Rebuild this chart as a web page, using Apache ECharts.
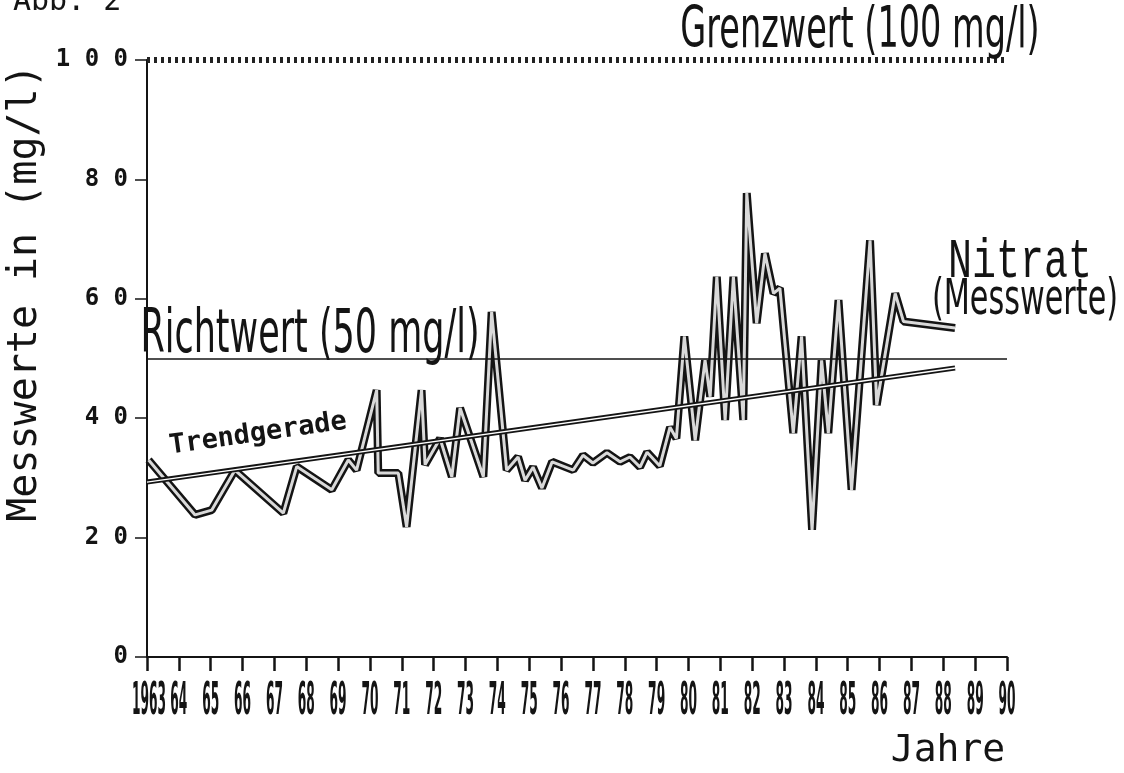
<!DOCTYPE html>
<html>
<head>
<meta charset="utf-8">
<script src="https://cdn.jsdelivr.net/npm/echarts@6/dist/echarts.min.js"></script>
<style>
html,body{margin:0;padding:0;background:#fff;}
#chart{width:1124px;height:773px;}
</style>
</head>
<body>
<div id="chart"></div>
<script>
// ---- data ----
const measureYears = [1963.05,1964.51,1965.03,1965.76,1967.28,1967.70,1968.80,1969.32,1969.58,1970.21,1970.26,1970.89,1971.15,1971.62,1971.73,1972.20,1972.57,1972.83,1973.56,1973.82,1974.29,1974.65,1974.87,1975.12,1975.40,1975.72,1976.38,1976.69,1977.00,1977.44,1977.85,1978.16,1978.48,1978.70,1979.10,1979.42,1979.62,1979.87,1980.21,1980.52,1980.68,1980.89,1981.15,1981.41,1981.72,1981.83,1982.14,1982.40,1982.67,1982.87,1983.29,1983.55,1983.88,1984.18,1984.39,1984.71,1985.12,1985.70,1985.91,1986.49,1986.75,1988.37];
const nitratValues = [33.0,23.8,24.6,31.3,24.1,31.9,28.0,33.0,31.3,44.7,30.8,30.8,21.8,44.7,32.2,36.6,30.2,41.7,30.2,57.8,31.3,33.5,29.6,31.8,28.3,32.7,31.3,33.8,32.5,34.2,32.7,33.5,31.8,34.3,32.0,38.5,36.6,53.7,36.3,49.7,43.6,63.7,39.7,63.7,39.7,77.7,55.9,67.6,60.9,61.8,37.5,53.7,21.3,49.7,37.5,59.8,28.0,69.8,42.2,60.9,56.2,55.1];
const trendYears = [1963, 1988.37];
const trendValues = [29.3, 48.4];
const richtwert = 50;
const grenzwert = 100;
const yearMin = 1963, yearMax = 1990;
const yearTickLabels = ['1963','64','65','66','67','68','69','70','71','72','73','74','75','76','77','78','79','80','81','82','83','84','85','86','87','88','89','90'];

const nitratData = measureYears.map((y, i) => [y, nitratValues[i]]);
const trendData = trendYears.map((y, i) => [y, trendValues[i]]);

const chart = echarts.init(document.getElementById('chart'), null, {renderer: 'canvas'});
const ink = '#141414';
const mono = '"DejaVu Sans Mono", "Liberation Mono", monospace';
const narrow = '"DejaVu Sans Condensed", "DejaVu Sans", sans-serif';

function txt(text, x, y, font, size, opts) {
  opts = opts || {};
  return {
    type: 'text', x: x, y: y, z: 50,
    rotation: opts.rotation || 0,
    scaleX: opts.scaleX || 1, scaleY: opts.scaleY || 1,
    style: {
      text: text, x: 0, y: 0,
      fill: ink, font: (opts.weight || 'normal') + ' ' + size + 'px ' + font,
      align: opts.align || 'center', verticalAlign: 'middle'
    }
  };
}

chart.setOption({
  animation: false,
  backgroundColor: '#fff',
  grid: {left: 147, right: 117, top: 60, bottom: 116, containLabel: false, outerBoundsMode: 'none'},
  xAxis: {
    type: 'value', min: yearMin, max: yearMax, interval: 1,
    axisLine: {show: true, onZero: false, lineStyle: {color: ink, width: 2}},
    axisTick: {show: true, inside: false, length: 14, lineStyle: {color: ink, width: 2.5}},
    splitLine: {show: false},
    axisLabel: {show: false}
  },
  yAxis: {
    type: 'value', min: 0, max: 100, interval: 20,
    axisLine: {show: true, lineStyle: {color: ink, width: 2}},
    axisTick: {show: true, inside: false, length: 12, lineStyle: {color: ink, width: 1.5}},
    splitLine: {show: false},
    axisLabel: {
      show: true, margin: 19, color: ink,
      fontFamily: mono, fontSize: 24, fontWeight: 'bold',
      formatter: v => String(v).split('').join(' ')
    }
  },
  series: [
    {
      type: 'line', name: 'Nitrat', data: nitratData, symbol: 'none', z: 3,
      lineStyle: {color: ink, width: 8, join: 'bevel'},
      markLine: {
        silent: true, symbol: 'none', label: {show: false},
        data: [
          {yAxis: richtwert, lineStyle: {color: ink, width: 1.6, type: 'solid'}},
          {yAxis: grenzwert, lineStyle: {color: '#222', width: 6, type: [3, 4]}}
        ]
      }
    },
    {
      type: 'line', name: 'Nitrat-inner', data: nitratData, symbol: 'none', z: 4,
      lineStyle: {color: '#d9d9d9', width: 3, join: 'bevel'}
    },
    {
      type: 'line', name: 'Trend', data: trendData, symbol: 'none', z: 5,
      lineStyle: {color: ink, width: 5}
    },
    {
      type: 'line', name: 'Trend-inner', data: trendData, symbol: 'none', z: 6,
      lineStyle: {color: '#fff', width: 1.4}
    }
  ]
});

// Year labels placed through the x axis scale (tall, condensed like the original)
const axisY = chart.convertToPixel({yAxisIndex: 0}, 0);
const yearGraphics = yearTickLabels.map((lab, i) => {
  const px = chart.convertToPixel({xAxisIndex: 0}, yearMin + i);
  return txt(lab, px + (i === 0 ? 2 : 0), axisY + 45, narrow, 34, {weight: 'bold', scaleX: 0.4, scaleY: 1.33});
});

chart.setOption({
  graphic: yearGraphics.concat([
    txt('Abb. 2', 13, 2, mono, 30, {align: 'left'}),
    txt('Grenzwert (100 mg/l)', 860, 32, narrow, 46, {scaleX: 0.81, scaleY: 1.25}),
    txt('Richtwert (50 mg/l)', 310, 336, narrow, 48, {scaleX: 0.81, scaleY: 1.25}),
    txt('Nitrat', 1020, 262, '"Liberation Mono", monospace', 40, {scaleY: 1.4}),
    txt('(Messwerte)', 1025, 301, narrow, 41, {scaleX: 0.82, scaleY: 1.2}),
    txt('Trendgerade', 258, 434, mono, 27, {weight: 'bold', rotation: 8.1 * Math.PI / 180}),
    txt('Jahre', 948, 751, mono, 38),
    txt('Messwerte in (mg/l)', 26, 293, mono, 40, {rotation: Math.PI / 2})
  ])
});
</script>
</body>
</html>
